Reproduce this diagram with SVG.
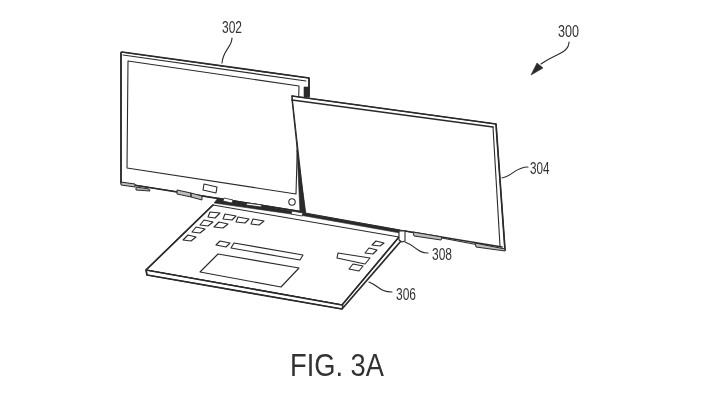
<svg xmlns="http://www.w3.org/2000/svg" width="702" height="405" viewBox="0 0 702 405">
<defs><filter id="soft" x="-5%" y="-5%" width="110%" height="110%"><feGaussianBlur stdDeviation="0.35"/></filter></defs>
<style>
.l{fill:none;stroke:#2a2a2a;stroke-width:1.1;stroke-linejoin:round;stroke-linecap:round}
.t{stroke-width:1.7}
.w{fill:#fff}
.d{fill:#2a2a2a;stroke:#2a2a2a;stroke-width:.6;stroke-linejoin:round}
.g{fill:#bbb;stroke:#2a2a2a;stroke-width:1}
.f{fill:#fff;stroke:#2a2a2a;stroke-width:.8}
text{font-family:"Liberation Sans",Arial,sans-serif;fill:#333}
.n{font-size:17px}
</style>
<rect width="702" height="405" fill="#fff"/>
<g filter="url(#soft)">
<g id="display-302">
<path class="l w" d="M121 52L309 78L309 96L305 212L121 183Z"/>
<path class="l t" d="M122 52L309 78V96M121 53V183L303 212"/>
<path class="l" d="M123 55L306 81"/>
<path class="l" d="M128 61L299 86L296 194L127 168Z"/>
<path class="d" d="M304 87H309V97H304Z"/>
<path class="g" d="M121 182L135 184L135 187L121 185ZM136 187L149 189L150 191L136 190ZM177 190L191 193L191 197L177 194ZM191 193L202 196L202 200L191 197Z"/>
<path class="l" d="M204 184L217 187L216 193L203 190Z"/>
<circle class="l" cx="292" cy="202" r="3.2"/>
</g>
<g id="display-304">
<path class="l w" d="M292 96L496 124L505 250L405 231L305 213Z"/>
<path class="l t" d="M292 96L496 124L505 250M292 100L493 127"/>
<path class="l" d="M493 127L500 246"/>
<path class="l" d="M292 96V100L304 213"/>
<path class="d" d="M297 150L306 214L300 213Z"/>
<path class="l t" d="M405 231L502 247"/>
<path class="g" d="M413 232L442 237L441 240L414 236Z"/>
<path class="g" d="M475 243L505 249V251L476 247Z"/>
</g>
<g id="keyboard-306">
<path class="l w" d="M213 205L399 237L342 305L146 270Z"/>
<path class="l w" d="M146 270L147 275L342 309L343 305Z"/>
<path class="l t" d="M213 205L146 270L147 275L342 309L401 241M146 270L342 305L399 237"/>
<path class="d" d="M218 198L303 213L400 230V233L305 216L214 203Z"/>
<path class="f" d="M224 198L233 200L232 203L223 201ZM247 203L262 205L261 207L246 205ZM292 211L303 213L302 216L291 214Z"/>
<path class="l" d="M210 212L220 213L215 218L208 217ZM225 214L236 216L232 220L223 219ZM238 217L249 219L245 223L236 222ZM253 219L264 221L259 225L251 224Z"/>
<path class="l" d="M204 220L213 222L208 226L200 225ZM219 222L228 224L223 228L214 227Z"/>
<path class="l" d="M196 227L205 229L200 233L192 232ZM188 235L196 237L191 241L183 240Z"/>
<path class="l" d="M220 241L230 243L226 247L216 245Z"/>
<path class="l" d="M234 243L303 255L300 260L231 248Z"/>
<path class="l" d="M218 254L299 268L281 287L200 272Z"/>
<path class="l" d="M338 253L370 258L365 264L337 258Z"/>
<path class="l" d="M353 264L363 266L359 271L349 269Z"/>
<path class="l" d="M369 248L377 250L373 254L365 253ZM376 241L384 243L380 246L372 245Z"/>
<path class="l w" d="M399 231L405 231V241L402 242L399 240Z"/>
</g>
</g>
<g id="connectors" filter="url(#soft)">
<path class="l" d="M232 38C232 47 223 50 222 63"/>
<path class="l" d="M569 42C569 53 555 54 541 64"/>
<path class="d" d="M531 75L537 63L543 68Z"/>
<path class="l" d="M528 167C515 167 513 176 502 178"/>
<path class="l" d="M428 253C417 253 416 246 405 242"/>
<path class="l" d="M392 292C380 292 379 286 369 282"/>
</g>
<g id="labels" filter="url(#soft)">
<text class="n" x="222" y="33" textLength="20" lengthAdjust="spacingAndGlyphs">302</text>
<text class="n" x="558" y="37" textLength="21" lengthAdjust="spacingAndGlyphs">300</text>
<text class="n" x="530" y="174" textLength="19.500" lengthAdjust="spacingAndGlyphs">304</text>
<text class="n" x="432" y="260" textLength="20" lengthAdjust="spacingAndGlyphs">308</text>
<text class="n" x="396" y="300" textLength="20" lengthAdjust="spacingAndGlyphs">306</text>
<text x="290" y="376" font-size="31" textLength="94" lengthAdjust="spacingAndGlyphs">FIG. 3A</text>
</g>
</svg>
